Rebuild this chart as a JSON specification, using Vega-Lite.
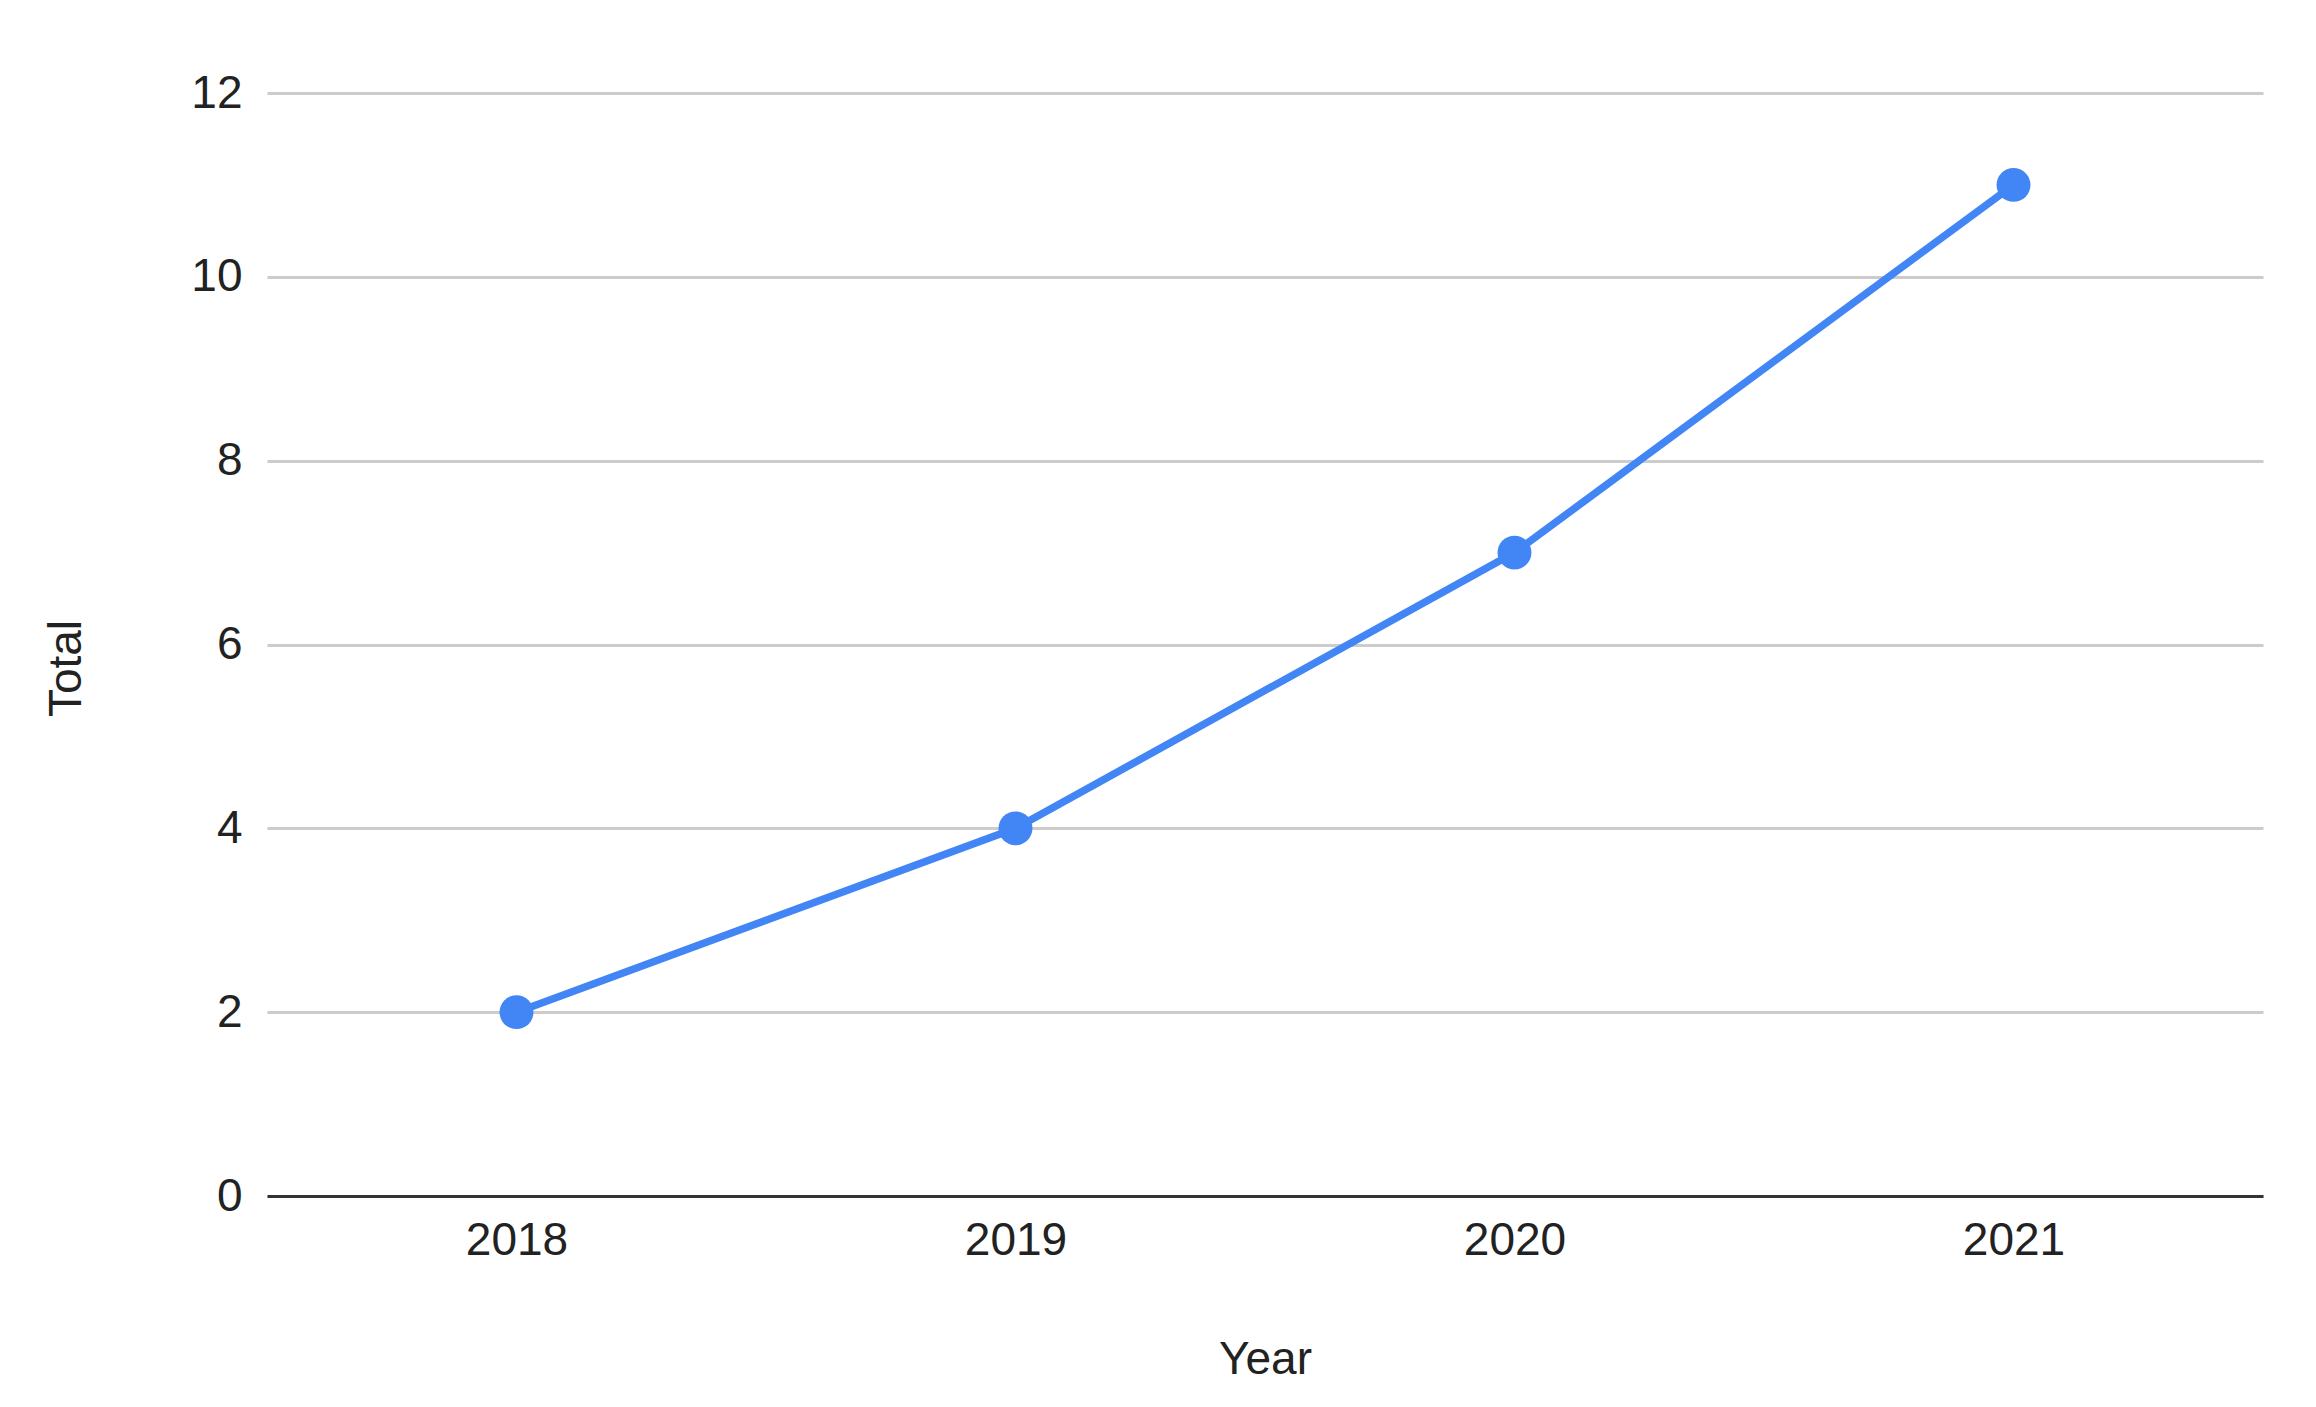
{
  "$schema": "https://vega.github.io/schema/vega-lite/v6.json",
  "width": 1996,
  "height": 1103,
  "autosize": {"type": "none"},
  "padding": {"left": 267, "top": 93, "right": 53, "bottom": 211},
  "background": "white",
  "config": {
    "view": {"stroke": null},
    "font": "Liberation Sans"
  },
  "data": {
    "values": [
      {"Year": "2018", "Total": 2},
      {"Year": "2019", "Total": 4},
      {"Year": "2020", "Total": 7},
      {"Year": "2021", "Total": 11}
    ]
  },
  "encoding": {
    "x": {
      "field": "Year",
      "type": "ordinal",
      "scale": {"type": "point", "padding": 0.5},
      "axis": {
        "title": "Year",
        "labelAngle": 0,
        "labelFontSize": 46,
        "labelColor": "#222222",
        "labelPadding": 22,
        "ticks": false,
        "domainColor": "#333333",
        "domainWidth": 3,
        "titleFontSize": 46,
        "titleFontWeight": "normal",
        "titleColor": "#222222",
        "titlePadding": 74,
        "grid": false
      }
    },
    "y": {
      "field": "Total",
      "type": "quantitative",
      "scale": {"domain": [0, 12], "nice": false},
      "axis": {
        "title": "Total",
        "values": [0, 2, 4, 6, 8, 10, 12],
        "labelFontSize": 46,
        "labelColor": "#222222",
        "labelPadding": 25,
        "ticks": false,
        "domain": false,
        "gridColor": "#cccccc",
        "gridWidth": 3,
        "titleFontSize": 46,
        "titleFontWeight": "normal",
        "titleColor": "#222222",
        "titleX": -201,
        "titleY": 575,
        "titleBaseline": "middle",
        "titleAlign": "center"
      }
    }
  },
  "layer": [
    {
      "mark": {"type": "line", "color": "#4285F4", "strokeWidth": 7.5}
    },
    {
      "mark": {"type": "point", "filled": true, "color": "#4285F4", "opacity": 1, "size": 1150}
    }
  ]
}
